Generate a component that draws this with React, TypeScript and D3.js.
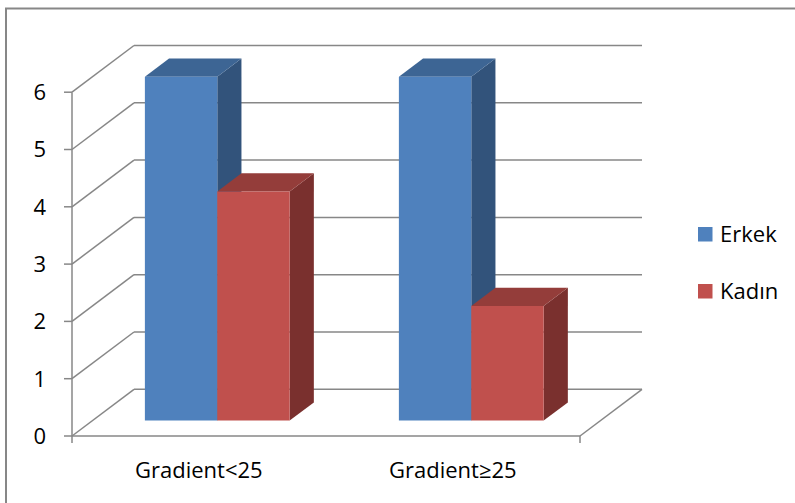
import React from "react";
import * as d3 from "d3";

const categories = ["Gradient<25", "Gradient≥25"];
const seriesNames = ["Erkek", "Kadın"];
const erkekValues = [6, 6];
const kadinValues = [4, 2];
const yTicks = [0, 1, 2, 3, 4, 5, 6];

const frontColors = ["#4F81BD", "#C0504D"];
const topColors = ["#3D6594", "#943D3A"];
const sideColors = ["#32537B", "#7A302E"];

const W = 795;
const H = 503;
const x0 = 72;
const x1 = 580;
const yBottom = 436;
const depthDx = 62;
const depthDy = -46.7;
const barD0 = 0.33;
const barD1 = 0.72;
const font = "'Open Sans', sans-serif";
const fs = 22;
const gridColor = "#878787";

export default function App() {
  const y = d3.scaleLinear().domain([0, 6]).range([yBottom, yBottom - 6 * 57.3]);
  const xCat = d3
    .scaleBand<string>()
    .domain(categories)
    .range([x0, x1])
    .paddingInner(0.43)
    .paddingOuter(0.215)
    .align(0.48);
  const xSer = d3.scaleBand<string>().domain(seriesNames).range([0, xCat.bandwidth()]);
  const seriesValues = [erkekValues, kadinValues];

  const P = (x: number, yy: number, d: number): [number, number] => [x + depthDx * d, yy + depthDy * d];
  const poly = (pts: [number, number][]) => pts.map((p) => p.join(",")).join(" ");

  const bars: React.ReactNode[] = [];
  categories.forEach((c, ci) => {
    seriesNames.forEach((s, si) => {
      const v = seriesValues[si][ci];
      const xl = (xCat(c) as number) + (xSer(s) as number);
      const xr = xl + xSer.bandwidth();
      const yt = y(v);
      const yb = y(0);
      const front = [P(xl, yt, barD0), P(xr, yt, barD0), P(xr, yb, barD0), P(xl, yb, barD0)];
      const top = [P(xl, yt, barD0), P(xr, yt, barD0), P(xr, yt, barD1), P(xl, yt, barD1)];
      const side = [P(xr, yt, barD0), P(xr, yt, barD1), P(xr, yb, barD1), P(xr, yb, barD0)];
      bars.push(
        <g key={c + s}>
          <polygon points={poly(side)} fill={sideColors[si]} />
          <polygon points={poly(top)} fill={topColors[si]} />
          <polygon points={poly(front)} fill={frontColors[si]} />
        </g>
      );
    });
  });

  return (
    <svg width={W} height={H} style={{ position: "absolute", left: 0, top: 0 }}>
      <rect x={0} y={0} width={W} height={H} fill="#fff" />
      <rect x={6} y={8.5} width={W + 20} height={H + 20} fill="none" stroke={gridColor} strokeWidth={2} />
      {yTicks.map((t) => {
        const a = P(x0, y(t), 0);
        const b = P(x0, y(t), 1);
        const c = P(x1, y(t), 1);
        return (
          <g key={"g" + t}>
            <line x1={a[0]} y1={a[1]} x2={b[0]} y2={b[1]} stroke={gridColor} strokeWidth={1.5} />
            <line x1={b[0]} y1={b[1]} x2={c[0]} y2={c[1]} stroke={gridColor} strokeWidth={1.5} />
            <line x1={x0 - 8} y1={y(t)} x2={x0} y2={y(t)} stroke={gridColor} strokeWidth={1.5} />
            <text x={46} y={y(t)} dy="0.36em" textAnchor="end" fontFamily={font} fontSize={fs} fill="#000">
              {t}
            </text>
          </g>
        );
      })}
      {(() => {
        const a = P(x1, yBottom, 0);
        const b = P(x1, yBottom, 1);
        return <line x1={a[0]} y1={a[1]} x2={b[0]} y2={b[1]} stroke={gridColor} strokeWidth={1.5} />;
      })()}
      <line x1={x0} y1={yBottom} x2={x1} y2={yBottom} stroke={gridColor} strokeWidth={1.5} />
      <line x1={x0} y1={y(6)} x2={x0} y2={yBottom + 7} stroke={gridColor} strokeWidth={1.5} />
      <line x1={x1} y1={yBottom} x2={x1} y2={yBottom + 7} stroke={gridColor} strokeWidth={1.5} />
      {bars}
      {categories.map((c) => (
        <text
          key={c}
          x={(xCat(c) as number) + xCat.bandwidth() / 2 + 2}
          y={478}
          textAnchor="middle"
          fontFamily={font}
          fontSize={fs}
          fill="#000"
        >
          {c}
        </text>
      ))}
      {seriesNames.map((s, i) => (
        <g key={s} transform={`translate(698, ${227 + i * 57})`}>
          <rect x={0} y={0} width={14.5} height={14.5} fill={frontColors[i]} />
          <text x={22} y={15} fontFamily={font} fontSize={fs} fill="#000">
            {s}
          </text>
        </g>
      ))}
    </svg>
  );
}
